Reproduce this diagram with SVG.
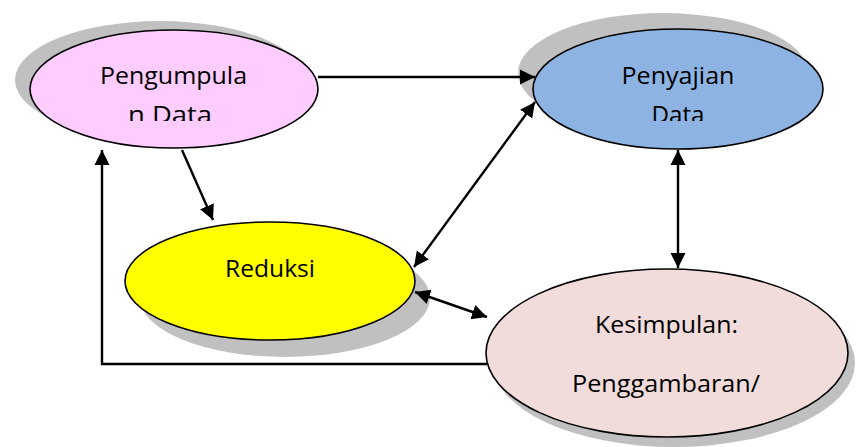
<svg xmlns="http://www.w3.org/2000/svg" width="859" height="447" viewBox="0 0 859 447">
<style>
.shadow{fill:#c0c0c0;stroke:none}
.node{stroke:#000;stroke-width:1.6}
.lbl{font-family:"Open Sans","Liberation Sans",Arial,sans-serif;font-size:23px;fill:#000;text-anchor:middle}
.conn{fill:none;stroke:#000;stroke-width:2.4}
</style>
<defs>
<marker id="ah" markerWidth="16" markerHeight="16" refX="15" refY="8" orient="auto-start-reverse" markerUnits="userSpaceOnUse">
<path d="M0,0.5 L15,8 L0,15.5 Z" fill="#000"/>
</marker>
<clipPath id="topclip"><rect x="0" y="0" width="859" height="121"/></clipPath>
</defs>
<g id="shadows">
<ellipse class="shadow" cx="160" cy="80" rx="145" ry="59"/>
<ellipse class="shadow" cx="663" cy="73" rx="145" ry="60"/>
<ellipse class="shadow" cx="285" cy="298" rx="145" ry="59"/>
<ellipse class="shadow" cx="674" cy="363" rx="181" ry="84"/>
</g>
<g id="node-pengumpulan">
<ellipse class="node" cx="174" cy="89" rx="144" ry="59" fill="#ffccff"/>
<g clip-path="url(#topclip)">
<text class="lbl" x="173.5" y="84" textLength="147" lengthAdjust="spacingAndGlyphs">Pengumpula</text>
<text class="lbl" x="170" y="123" textLength="84" lengthAdjust="spacingAndGlyphs">n Data</text>
</g>
</g>
<g id="node-penyajian">
<ellipse class="node" cx="678" cy="89" rx="145" ry="60" fill="#8db3e2"/>
<g clip-path="url(#topclip)">
<text class="lbl" x="678" y="84" textLength="113" lengthAdjust="spacingAndGlyphs">Penyajian</text>
<text class="lbl" x="678" y="123" textLength="53" lengthAdjust="spacingAndGlyphs">Data</text>
</g>
</g>
<g id="node-reduksi">
<ellipse class="node" cx="270" cy="281" rx="145" ry="59" fill="#ffff00"/>
<text class="lbl" x="270" y="277" textLength="90" lengthAdjust="spacingAndGlyphs">Reduksi</text>
</g>
<g id="node-kesimpulan">
<ellipse class="node" cx="667" cy="353" rx="181" ry="84" fill="#f2dcdb"/>
<text class="lbl" x="666.5" y="333" textLength="143" lengthAdjust="spacingAndGlyphs">Kesimpulan:</text>
<text class="lbl" x="666" y="392" textLength="188" lengthAdjust="spacingAndGlyphs">Penggambaran/</text>
</g>
<g id="connectors">
<line class="conn" x1="318" y1="77" x2="535" y2="77" marker-end="url(#ah)"/>
<line class="conn" x1="182" y1="150" x2="213" y2="220" marker-end="url(#ah)"/>
<polyline class="conn" points="487,364 102,364 102,150" marker-end="url(#ah)"/>
<line class="conn" x1="414" y1="267" x2="535" y2="102" marker-start="url(#ah)" marker-end="url(#ah)"/>
<line class="conn" x1="678" y1="150" x2="678" y2="268" marker-start="url(#ah)" marker-end="url(#ah)"/>
<line class="conn" x1="415" y1="292" x2="487" y2="317" marker-start="url(#ah)" marker-end="url(#ah)"/>
</g>
</svg>
